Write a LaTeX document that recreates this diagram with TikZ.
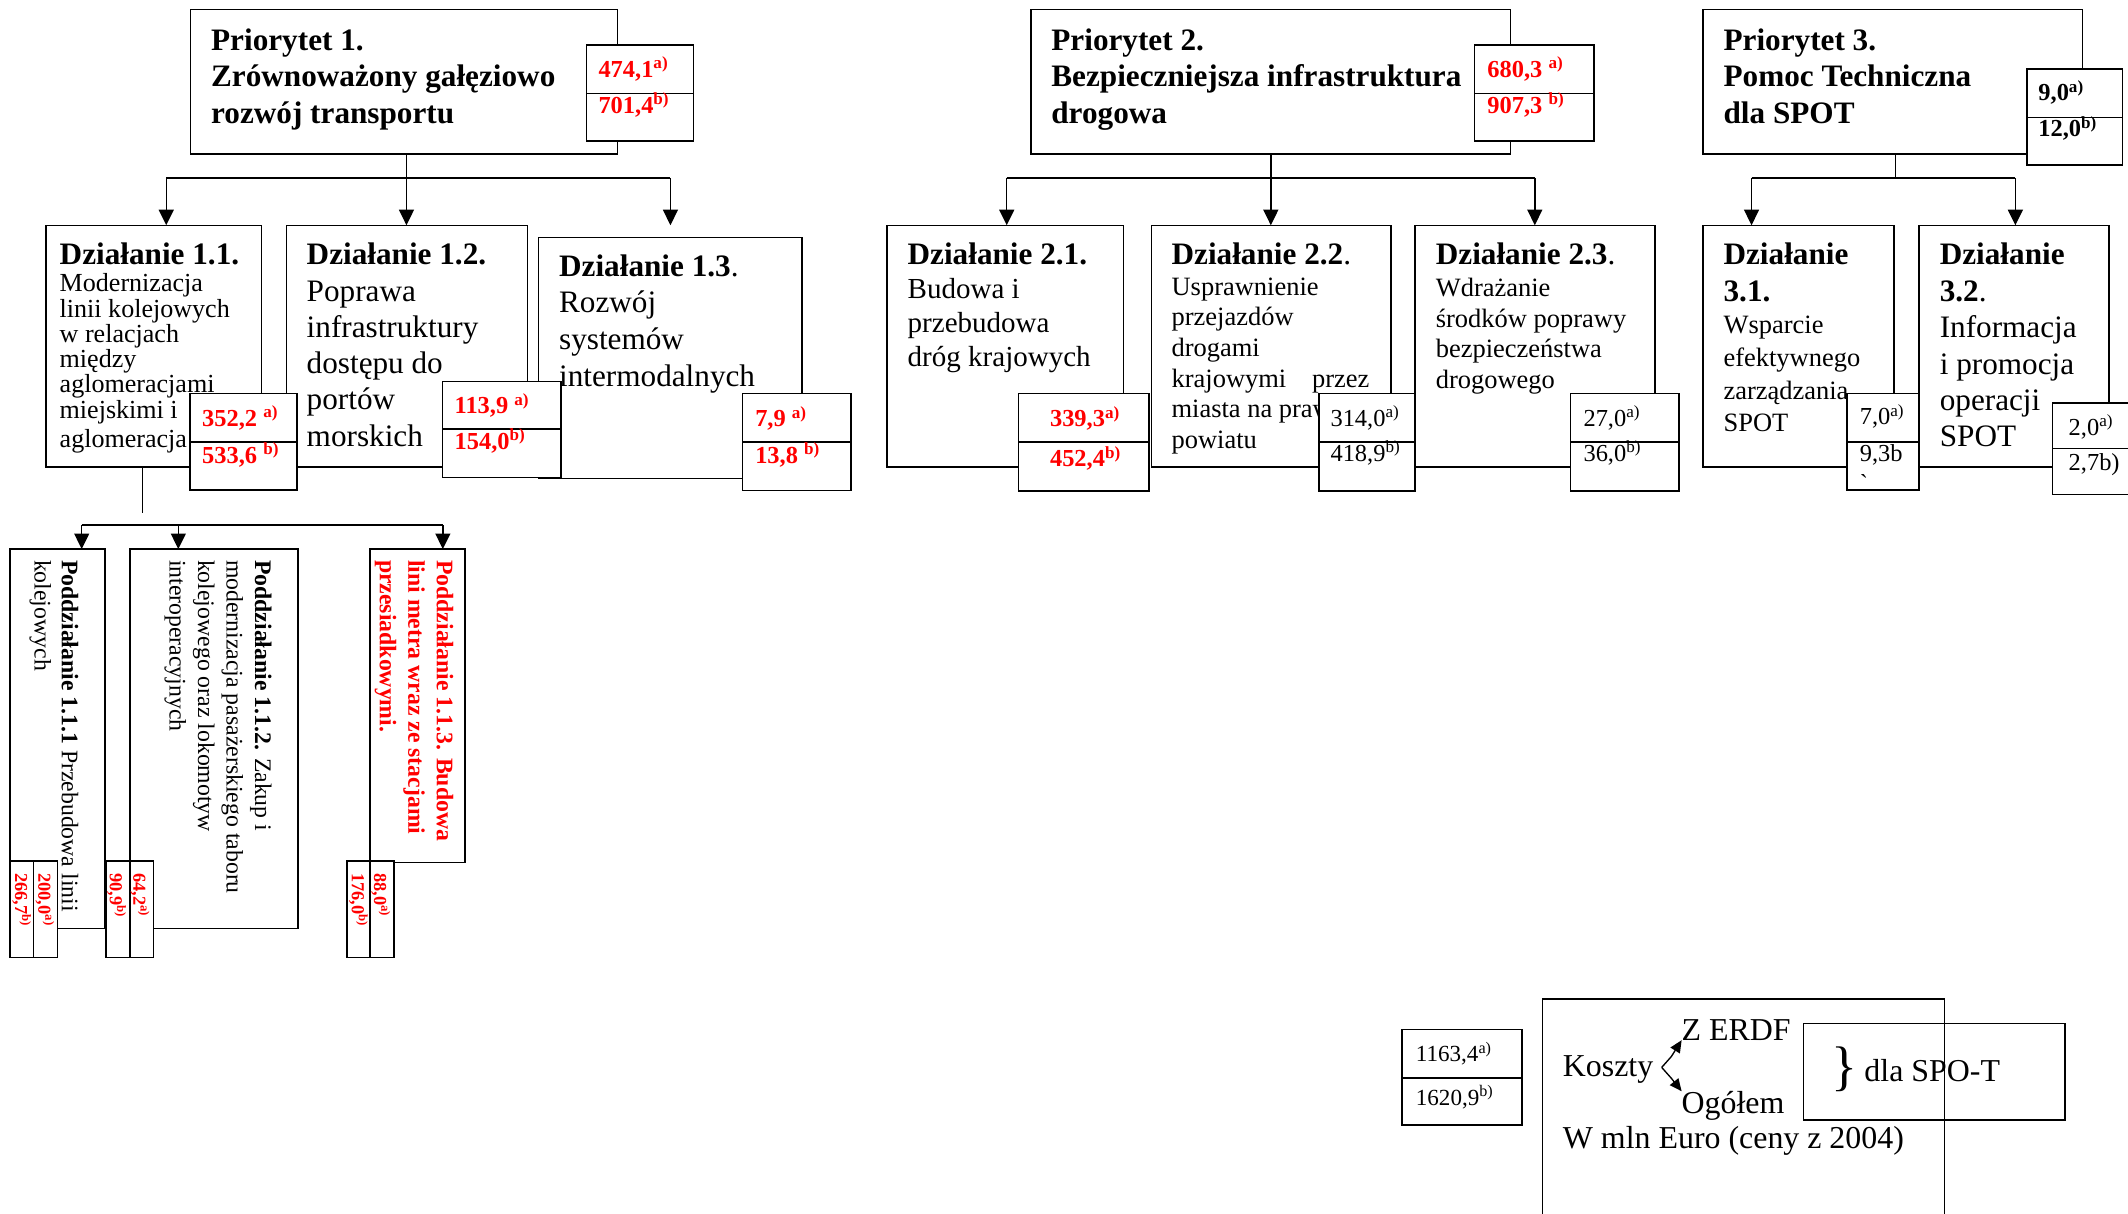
\documentclass[tikz,border=0pt]{standalone}
\usepackage{fontspec}
\setmainfont{Liberation Serif}
\usetikzlibrary{arrows.meta,fit}
\newcommand{\valbox}[6]{%
  \node[bx, fit={(#2,#3) (#5,#4)}] (#1a) {};
  \node[bx, fit={(#2,#4) (#5,#6)}] (#1b) {};}
\newcommand{\fs}[2]{\fontsize{#1}{#2}\selectfont}
\begin{document}
\begin{tikzpicture}[x=1pt,y=-1pt,
  bx/.style={draw,line width=1.1pt,inner sep=0pt,outer sep=0pt,fill=white},
  ob/.style={draw,line width=1.1pt,inner sep=0pt,outer sep=0pt},
  ln/.style={line width=1.1pt},
  arr/.style={line width=1.1pt,-{Triangle[length=11.5pt,width=11pt]}},
  sarr/.style={line width=1pt,-{Triangle[length=9pt,width=8pt]}},
  txt/.style={inner sep=0pt,outer sep=0pt,anchor=base west,align=left},
  ptitle/.style={txt,font=\fs{23}{27}\bfseries},
  valr/.style={txt,font=\fs{18}{20}\bfseries,text=red},
  valk/.style={txt,font=\fs{18}{20}\bfseries},
  valn/.style={txt,font=\fs{18}{20}},
  rot/.style={txt,rotate=-90},
  rval/.style={txt,rotate=-90,font=\fs{13.5}{15}\bfseries,text=red},
]
\useasboundingbox (0,0) rectangle (1568,894);
\clip (0,0) rectangle (1568,894);

% (multi-line text nodes are anchored at the baseline of their LAST line)
% ---------- Priorities ----------
\node[bx,fit={(140.4,6.9) (455,113.5)}] (p1) {};
\node[ptitle] (p1t) at (155.6,91) {Priorytet 1.\\Zrównoważony gałęziowo\\rozwój transportu};
\valbox{p1v}{432}{33}{69}{511}{104}
\node[valr] (p1va t) at (441,57) {474,1\textsuperscript{a)}};
\node[valr] (p1vb t) at (441,83.5) {701,4\textsuperscript{b)}};

\node[bx,fit={(759.5,6.9) (1113,113.5)}] (p2) {};
\node[ptitle] (p2t) at (774.7,91) {Priorytet 2.\\Bezpieczniejsza infrastruktura\\drogowa};
\valbox{p2v}{1086.5}{33}{69}{1174.6}{104}
\node[valr] (p2va t) at (1096,57) {680,3 \textsuperscript{a)}};
\node[valr] (p2vb t) at (1096,83.5) {907,3 \textsuperscript{b)}};

\node[bx,fit={(1254.7,6.9) (1534.6,113.5)}] (p3) {};
\node[ptitle] (p3t) at (1270,91) {Priorytet 3.\\Pomoc Techniczna\\dla SPOT};
\valbox{p3v}{1493.5}{50.9}{86.5}{1564}{121.6}
\node[valk] (p3va t) at (1502,74.4) {9,0\textsuperscript{a)}};
\node[valk] (p3vb t) at (1502,100.7) {12,0\textsuperscript{b)}};

% ---------- Actions ----------
\node[bx,fit={(34,166) (192.5,344)}] (d11) {};
\node[ptitle] (d11t) at (44,195) {Działanie 1.1.};
\node[txt,font=\fs{19.2}{18.6}] (d11b) at (44,330) {Modernizacja\\linii kolejowych\\w relacjach\\między\\aglomeracjami\\miejskimi i\\[3.4pt]aglomeracja};

\node[bx,fit={(211,166) (388.5,344)}] (d12) {};
\node[ptitle] (d12t) at (226,195) {Działanie 1.2.};
\node[txt,font=\fs{23}{26.7}] (d12b) at (226,328.8) {Poprawa\\infrastruktury\\dostępu do\\portów\\morskich};

\node[bx,fit={(396.6,175) (591,352.5)}] (d13) {};
\node[txt,font=\fs{23}{27}] (d13t) at (412,204) {\textbf{Działanie 1.3}.};
\node[txt,font=\fs{23}{27.5}] (d13b) at (412,285) {Rozwój\\systemów\\intermodalnych};

\node[bx,fit={(653.5,166) (827.8,344)}] (d21) {};
\node[ptitle] (d21t) at (668.8,195) {Działanie 2.1.};
\node[txt,font=\fs{21.4}{25}] (d21b) at (668.8,270) {Budowa i\\przebudowa\\dróg krajowych};

\node[bx,fit={(848.4,166) (1025,344)}] (d22) {};
\node[txt,font=\fs{23}{27}] (d22t) at (863.3,195) {\textbf{Działanie 2.2}.};
\node[txt,font=\fs{19.5}{22.6}] (d22b) at (863.3,330.4) {Usprawnienie\\przejazdów\\drogami\\krajowymi\hspace{19pt}przez\\miasta na prawach\\powiatu};

\node[bx,fit={(1042.6,166) (1219.5,344)}] (d23) {};
\node[txt,font=\fs{23}{27}] (d23t) at (1058,195) {\textbf{Działanie 2.3}.};
\node[txt,font=\fs{19.5}{22.4}] (d23b) at (1058,285.9) {Wdrażanie\\środków poprawy\\bezpieczeństwa\\drogowego};

\node[bx,fit={(1254.7,166) (1395.7,344)}] (d31) {};
\node[ptitle] (d31t) at (1270,222) {Działanie\\3.1.};
\node[txt,font=\fs{19.5}{24}] (d31b) at (1270,318) {Wsparcie\\efektywnego\\zarządzania\\SPOT};

\node[bx,fit={(1414,166) (1554,344)}] (d32) {};
\node[txt,font=\fs{23}{27}] (d32t) at (1429.3,222) {\textbf{Działanie}\\\textbf{3.2}.};
\node[txt,font=\fs{23}{26.7}] (d32b) at (1429.3,329.1) {Informacja\\i promocja\\operacji\\SPOT};

% ---------- Action values ----------
\valbox{v11}{140}{290}{325.5}{219}{361}
\node[valr] (v11a t) at (149,314) {352,2 \textsuperscript{a)}};
\node[valr] (v11b t) at (149,341.5) {533,6 \textsuperscript{b)}};

\valbox{v12}{326}{281}{316}{413.5}{352}
\node[valr] (v12a t) at (335,304.7) {113,9 \textsuperscript{a)}};
\node[valr] (v12b t) at (335,331) {154,0\textsuperscript{b)}};

\valbox{v13}{547}{290}{325.5}{627}{361.5}
\node[valr] (v13a t) at (556.5,314.5) {7,9 \textsuperscript{a)}};
\node[valr] (v13b t) at (556.5,341.5) {13,8 \textsuperscript{b)}};

\valbox{v21}{750.3}{290}{325.5}{846.7}{361.7}
\node[valr] (v21a t) at (773.7,314.5) {339,3\textsuperscript{a)}};
\node[valr] (v21b t) at (773.7,344) {452,4\textsuperscript{b)}};

\valbox{v22}{972}{290}{325.5}{1042.6}{361.7}
\node[valn] (v22a t) at (980.4,314) {314,0\textsuperscript{a)}};
\node[valn] (v22b t) at (980.4,340) {418,9\textsuperscript{b)}};

\valbox{v23}{1157.3}{290}{325.5}{1237}{361.7}
\node[valn] (v23a t) at (1166.8,314) {27,0\textsuperscript{a)}};
\node[valn] (v23b t) at (1166.8,340) {36,0\textsuperscript{b)}};

\valbox{v31}{1361}{290}{325.5}{1413.9}{361}
\node[valn] (v31a t) at (1370.4,313) {7,0\textsuperscript{a)}};
\node[valn] (v31b t) at (1370.4,340) {9,3b};
\node[valn] (v31c t) at (1370.4,362) {\textasciigrave};

\valbox{v32}{1512.4}{297}{330.5}{1575}{364.4}
\node[valn] (v32a t) at (1524.3,320.6) {2,0\textsuperscript{a)}};
\node[valn] (v32b t) at (1524.3,346.4) {2,7b)};

% ---------- Connectors ----------
\coordinate (j1) at (299.5,131);
\coordinate (j1l) at (122.5,131);
\coordinate (j1r) at (494,131);
\coordinate (e13) at (494,166);
\draw[ln] (p1.south -| j1) -- (j1);
\draw[ln] (j1l) -- (j1r);
\draw[arr] (j1l) -- (j1l |- d11.north);
\draw[arr] (j1) -- (j1 |- d12.north);
\draw[arr] (j1r) -- (e13);

\coordinate (j2) at (936.4,131);
\coordinate (j2l) at (741.8,131);
\coordinate (j2r) at (1130.9,131);
\draw[ln] (p2.south -| j2) -- (j2);
\draw[ln] (j2l) -- (j2r);
\draw[arr] (j2l) -- (j2l |- d21.north);
\draw[arr] (j2) -- (j2 |- d22.north);
\draw[arr] (j2r) -- (j2r |- d23.north);

\coordinate (j3) at (1396.7,131);
\coordinate (j3l) at (1290.6,131);
\coordinate (j3r) at (1485,131);
\draw[ln] (p3.south -| j3) -- (j3);
\draw[ln] (j3l) -- (j3r);
\draw[arr] (j3l) -- (j3l |- d31.north);
\draw[arr] (j3r) -- (j3r |- d32.north);

% ---------- Sub-actions ----------
\node[bx,fit={(7.4,404.6) (77.4,684)}] (s1) {};
\node[bx,fit={(95.8,404.6) (219.4,684)}] (s2) {};
\node[bx,fit={(272.7,404.6) (342.8,635.5)}] (s3) {};
\node[rot,font=\fs{17.5}{20}] (s1t) at (25.5,412.7) {\textbf{Poddziałanie 1.1.1} Przebudowa linii\\kolejowych};
\node[rot,font=\fs{17.5}{21}] (s2t) at (125,412.7) {\textbf{Poddziałanie 1.1.2.} Zakup i\\modernizacja pasażerskiego taboru\\kolejowego oraz lokomotyw\\interoperacyjnych};
\node[rot,font=\fs{17.5}{21}\bfseries,text=red] (s3t) at (279.9,412.7) {Poddziałanie 1.1.3. Budowa\\lini metra wraz ze stacjami\\przesiadkowymi.};

\node[bx,fit={(7.4,634.5) (24.6,705.4)}] (s1vb) {};
\node[bx,fit={(24.6,634.5) (42.3,705.4)}] (s1va) {};
\node[bx,fit={(78.1,634.5) (95.8,705.4)}] (s2vb) {};
\node[bx,fit={(95.8,634.5) (113,705.4)}] (s2va) {};
\node[bx,fit={(255.5,634.5) (272.7,705.4)}] (s3vb) {};
\node[bx,fit={(272.7,634.5) (290.4,705.4)}] (s3va) {};
\node[rval] (s1va t) at (28.3,643.6) {200,0\textsuperscript{a)}};
\node[rval] (s1vb t) at (11.1,643.6) {266,7\textsuperscript{b)}};
\node[rval] (s2va t) at (98.3,643.6) {64,2\textsuperscript{a)}};
\node[rval] (s2vb t) at (81,643.6) {90,9\textsuperscript{b)}};
\node[rval] (s3va t) at (275.7,643.6) {88,0\textsuperscript{a)}};
\node[rval] (s3vb t) at (259.2,643.6) {176,0\textsuperscript{b)}};

\coordinate (k1) at (105,378);
\coordinate (h1) at (60.2,386.9);
\coordinate (h2) at (131.4,386.9);
\coordinate (h3) at (326.3,386.9);
\draw[ln] (d11.south -| k1) -- (k1);
\draw[ln] (h1) -- (h3);
\draw[arr] (h1) -- (h1 |- s1.north);
\draw[arr] (h2) -- (h2 |- s2.north);
\draw[arr] (h3) -- (h3 |- s3.north);

% ---------- Legend ----------
\valbox{lv}{1032.9}{758.5}{794.2}{1121.4}{829}
\node[txt,font=\fs{17}{20}] (lva t) at (1043.3,782.4) {1163,4\textsuperscript{a)}};
\node[txt,font=\fs{17}{20}] (lvb t) at (1043.3,814.3) {1620,9\textsuperscript{b)}};
\node[ob,fit={(1136.5,736.2) (1432.9,905)}] (lg) {};
\node[ob,fit={(1328.8,754.1) (1521.5,825.3)}] (lg2) {};
\node[txt,font=\fs{23.5}{26}] (kz) at (1151.6,793.4) {Koszty};
\node[txt,font=\fs{23.5}{26}] (ze) at (1239.1,766.4) {Z ERDF};
\node[txt,font=\fs{23.5}{26}] (og) at (1239.1,820.4) {Ogółem};
\node[txt,font=\fs{23.5}{26}] (wm) at (1151.6,846.2) {W mln Euro (ceny z 2004)};
\node[txt,font=\fs{40}{40}] (br) at (1349.2,799) {\}};
\node[txt,font=\fs{23.5}{26}] (dl) at (1373.8,797) {dla SPO-T};
\coordinate (kv) at (1224.4,786.5);
\coordinate (ku) at (1231.5,778.5);
\coordinate (kd) at (1231.5,794.5);
\draw[sarr] (kv) -- (ku) -- (ze.south west);
\draw[sarr] (kv) -- (kd) -- (og.north west);
\end{tikzpicture}
\end{document}
